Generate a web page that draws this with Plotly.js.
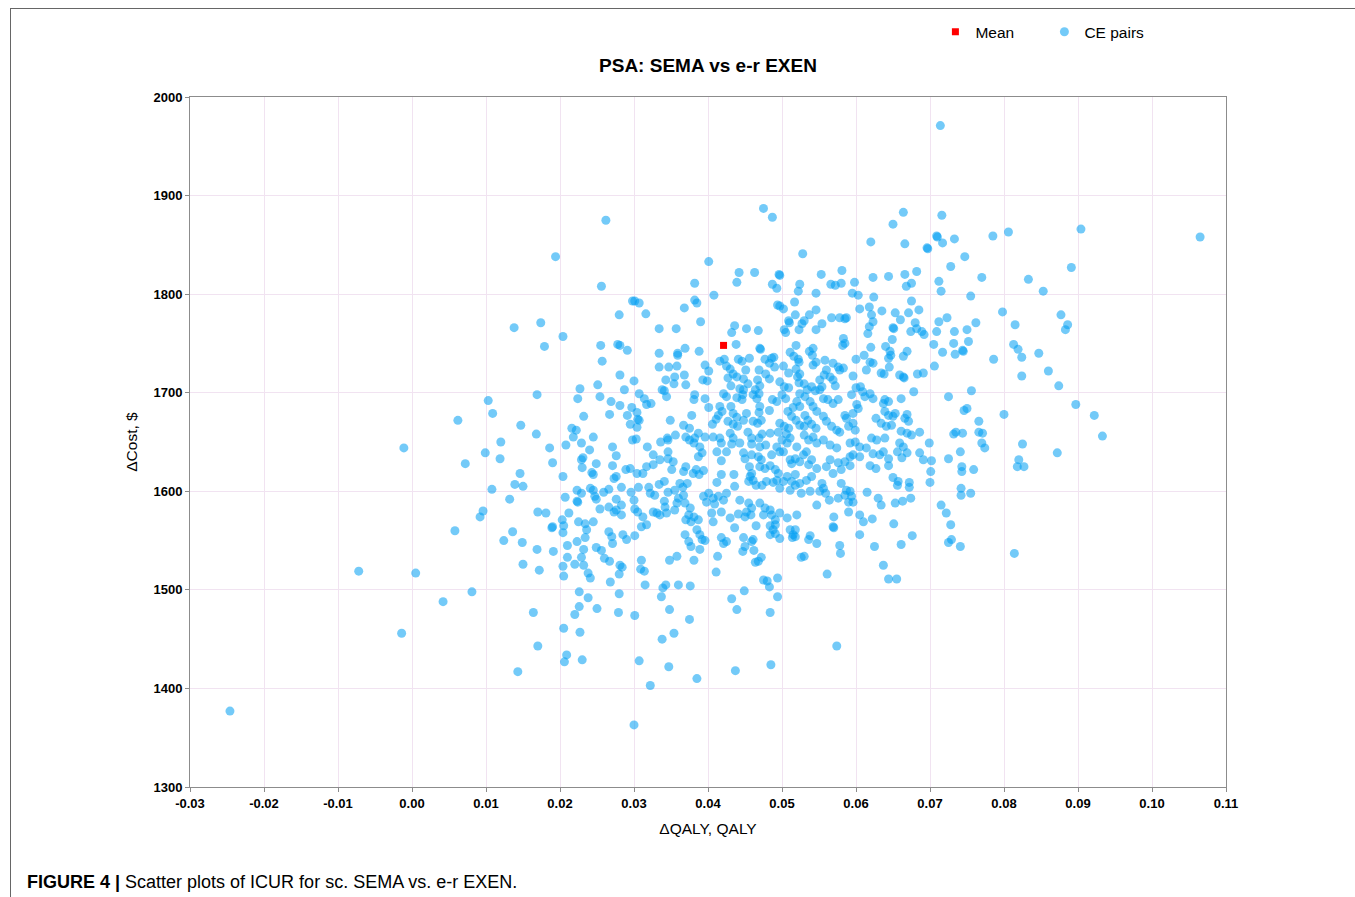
<!DOCTYPE html>
<html>
<head>
<meta charset="utf-8">
<script src="https://cdn.plot.ly/plotly-3.0.1.min.js"></script>
<style>
html,body{margin:0;padding:0;background:#fff;}
#frame{position:absolute;left:10px;top:8px;width:1345px;height:889px;border-left:1px solid #666;border-top:1px solid #666;pointer-events:none;}
#chart{width:1355px;height:897px;}
</style>
</head>
<body>
<div id="chart"></div>
<div id="frame"></div>
<script>
// ΔQALY, ΔCost pairs
const cePairs = [
[0.0103,1692],[0.0109,1679],[0.0062,1672],[0.0147,1667],[0.0168,1658],[-0.0011,1644],[0.0120,1650],[0.0099,1639],[0.0119,1633],[0.0072,1628],
[0.0146,1618],[0.0139,1607],[0.0150,1605],[0.0108,1602],[0.0132,1592],[0.0170,1579],[0.0096,1580],[0.0092,1574],[0.0058,1560],[0.0136,1559],
[0.0124,1550],[0.0149,1548],[0.0169,1541],[0.0150,1526],[0.0172,1520],[-0.0072,1519],[0.0005,1517],[0.0081,1498],[0.0042,1488],[0.0164,1477],
[-0.0014,1456],[0.0170,1443],[0.0143,1417],[-0.0246,1377],[0.0169,1698],[0.0138,1766],
[0.0714,1971],[0.0262,1875],[0.0194,1838],[0.0475,1887],[0.0487,1878],[0.0664,1883],[0.0716,1880],[0.0650,1871],[0.0620,1853],[0.0666,1851],
[0.0709,1859],[0.0710,1858],[0.0696,1847],[0.0697,1846],[0.0717,1852],[0.0733,1856],[0.0785,1859],[0.0747,1838],[0.0728,1828],[0.0528,1841],
[0.0401,1833],[0.0442,1822],[0.0463,1822],[0.0496,1820],[0.0497,1819],[0.0553,1820],[0.0581,1824],[0.0623,1817],[0.0644,1818],[0.0666,1820],
[0.0682,1823],[0.0770,1817],
[0.0806,1863],[0.0904,1866],[0.1065,1858],[0.0891,1827],[0.0833,1815],[0.0853,1803],[0.0755,1798],[0.0798,1782],[0.0877,1779],[0.0886,1769],
[0.0883,1764],[0.0815,1769],[0.0762,1771],[0.0750,1764],[0.0752,1752],[0.0744,1743],[0.0745,1742],[0.0813,1749],[0.0819,1744],[0.0824,1736],
[0.0847,1740],[0.0786,1734],[0.0860,1722],[0.0824,1717],[0.0874,1707],[0.0756,1702],[0.0897,1688],[0.0922,1677],[0.0933,1656],[0.0800,1678],
[0.0746,1682],[0.0750,1684],[0.0766,1671],[0.0766,1660],[0.0771,1659],[0.0744,1659],[0.0770,1649],[0.0774,1644],[0.0825,1648],[0.0872,1639],
[0.0820,1632],[0.0818,1625],[0.0827,1625],[0.0741,1640],[0.0743,1625],[0.0743,1620],[0.0759,1622],[0.0742,1603],[0.0742,1596],[0.0755,1598],
[0.0741,1544],[0.0814,1537],
[0.0256,1808],[0.0298,1793],[0.0301,1793],[0.0307,1791],[0.0280,1779],[0.0316,1780],[0.0174,1771],[0.0179,1747],[0.0204,1757],[0.0334,1765],
[0.0357,1765],[0.0255,1748],[0.0278,1749],[0.0281,1748],[0.0291,1743],[0.0257,1732],[0.0334,1740],[0.0359,1740],[0.0359,1738],[0.0334,1726],
[0.0347,1726],[0.0358,1727],[0.0281,1718],[0.0300,1712],[0.0343,1713],[0.0355,1716],[0.0354,1709],[0.0251,1708],[0.0287,1703],[0.0227,1704],
[0.0224,1694],[0.0338,1703],[0.0341,1702],[0.0254,1696],[0.0344,1696],[0.0307,1699],[0.0314,1694],[0.0317,1688],[0.0323,1689],[0.0269,1691],
[0.0281,1687],[0.0297,1685],[0.0304,1680],[0.0305,1673],[0.0307,1672],[0.0291,1677],[0.0267,1678],[0.0232,1676],[0.0295,1668],[0.0304,1665],
[0.0216,1664],[0.0222,1662],[0.0218,1655],[0.0245,1655],[0.0229,1649],[0.0208,1647],[0.0271,1645],[0.0298,1652],[0.0303,1653],[0.0318,1645],
[0.0336,1650],[0.0345,1654],[0.0356,1657],[0.0349,1672],[0.0346,1652],[0.0186,1644],[0.0240,1642],
[0.0382,1811],[0.0439,1812],[0.0487,1810],[0.0493,1806],[0.0524,1810],[0.0522,1803],[0.0546,1801],[0.0408,1799],[0.0368,1786],[0.0382,1794],
[0.0385,1791],[0.0494,1789],[0.0497,1788],[0.0517,1792],[0.0502,1785],[0.0537,1779],[0.0546,1784],[0.0518,1779],[0.0390,1772],[0.0509,1773],
[0.0510,1771],[0.0530,1773],[0.0527,1770],[0.0436,1768],[0.0452,1765],[0.0468,1763],[0.0432,1761],[0.0503,1764],[0.0505,1761],[0.0523,1764],
[0.0546,1764],[0.0438,1749],[0.0369,1745],[0.0470,1745],[0.0471,1744],[0.0388,1742],[0.0519,1748],[0.0537,1742],[0.0542,1745],[0.0511,1741],
[0.0416,1732],[0.0422,1734],[0.0441,1734],[0.0446,1732],[0.0456,1735],[0.0477,1734],[0.0486,1735],[0.0483,1730],[0.0489,1736],[0.0516,1737],
[0.0522,1734],[0.0523,1731],[0.0541,1738],[0.0546,1731],[0.0542,1728],[0.0425,1727],[0.0430,1724],[0.0396,1728],[0.0469,1723],[0.0451,1723],
[0.0490,1726],[0.0502,1727],[0.0509,1720],[0.0401,1722],[0.0434,1719],[0.0439,1716],[0.0519,1724],[0.0524,1719],[0.0521,1716],[0.0368,1718],
[0.0478,1719],[0.0483,1714],[0.0393,1713],[0.0399,1712],[0.0427,1715],[0.0431,1707],[0.0448,1714],[0.0454,1709],[0.0443,1704],[0.0448,1703],
[0.0467,1713],[0.0470,1707],[0.0464,1703],[0.0469,1699],[0.0497,1711],[0.0503,1706],[0.0509,1705],[0.0500,1698],[0.0523,1710],[0.0530,1709],
[0.0534,1703],[0.0540,1706],[0.0545,1702],[0.0524,1699],[0.0531,1696],[0.0370,1708],[0.0421,1699],[0.0425,1696],[0.0382,1698],[0.0381,1693],
[0.0396,1694],[0.0439,1695],[0.0446,1693],[0.0447,1698],[0.0461,1698],[0.0466,1694],[0.0487,1693],[0.0493,1691],[0.0505,1694],[0.0520,1691],
[0.0524,1686],[0.0515,1685],[0.0538,1691],[0.0542,1686],[0.0547,1681],[0.0401,1685],[0.0416,1686],[0.0419,1681],[0.0414,1677],[0.0431,1686],
[0.0434,1679],[0.0439,1675],[0.0470,1686],[0.0469,1680],[0.0452,1679],[0.0448,1672],[0.0378,1677],[0.0483,1682],[0.0508,1681],[0.0513,1676],
[0.0531,1677],[0.0535,1672],[0.0411,1673],[0.0406,1668],[0.0427,1671],[0.0434,1668],[0.0440,1666],[0.0461,1671],[0.0467,1669],[0.0472,1672],
[0.0497,1669],[0.0503,1666],[0.0509,1664],[0.0519,1672],[0.0524,1667],[0.0530,1666],[0.0540,1668],[0.0546,1664],[0.0367,1667],[0.0375,1664],
[0.0387,1659],[0.0396,1655],[0.0382,1654],[0.0407,1655],[0.0416,1654],[0.0430,1659],[0.0434,1654],[0.0454,1660],[0.0459,1654],[0.0473,1658],
[0.0469,1654],[0.0484,1659],[0.0495,1660],[0.0500,1652],[0.0511,1654],[0.0506,1658],[0.0530,1657],[0.0536,1652],[0.0542,1655],[0.0547,1649],
[0.0370,1655],[0.0375,1652],[0.0381,1649],[0.0389,1645],[0.0418,1649],[0.0432,1648],[0.0443,1649],[0.0459,1648],[0.0470,1645],[0.0478,1647],
[0.0493,1645],[0.0507,1649],[0.0520,1645],
[0.0566,1810],[0.0572,1809],[0.0580,1811],[0.0598,1812],[0.0668,1808],[0.0675,1811],[0.0712,1813],[0.0715,1803],[0.0595,1801],[0.0603,1799],
[0.0624,1797],[0.0605,1785],[0.0618,1787],[0.0635,1783],[0.0653,1781],[0.0660,1774],[0.0671,1781],[0.0675,1793],[0.0685,1784],[0.0567,1776],
[0.0578,1776],[0.0585,1775],[0.0587,1776],[0.0621,1779],[0.0623,1772],[0.0618,1767],[0.0616,1760],[0.0650,1766],[0.0651,1765],[0.0680,1771],
[0.0682,1765],[0.0689,1762],[0.0692,1759],[0.0674,1762],[0.0712,1772],[0.0723,1776],[0.0709,1762],[0.0733,1762],[0.0554,1770],[0.0649,1754],
[0.0583,1755],[0.0585,1750],[0.0582,1748],[0.0705,1749],[0.0732,1750],[0.0734,1739],[0.0640,1747],[0.0646,1742],[0.0644,1735],[0.0647,1738],
[0.0620,1746],[0.0611,1738],[0.0619,1731],[0.0623,1730],[0.0614,1723],[0.0600,1734],[0.0669,1742],[0.0664,1737],[0.0717,1741],[0.0558,1733],
[0.0569,1730],[0.0576,1726],[0.0578,1723],[0.0583,1725],[0.0560,1723],[0.0557,1718],[0.0565,1716],[0.0569,1713],[0.0572,1707],[0.0596,1717],
[0.0645,1726],[0.0634,1720],[0.0638,1719],[0.0659,1718],[0.0664,1716],[0.0665,1715],[0.0683,1719],[0.0691,1720],[0.0706,1727],[0.0551,1713],
[0.0554,1706],[0.0600,1705],[0.0606,1706],[0.0609,1701],[0.0612,1696],[0.0619,1699],[0.0623,1694],[0.0594,1698],[0.0678,1701],[0.0725,1696],
[0.0661,1694],[0.0639,1693],[0.0644,1691],[0.0551,1703],[0.0556,1694],[0.0562,1693],[0.0569,1689],[0.0576,1693],[0.0601,1688],[0.0603,1684],
[0.0596,1679],[0.0637,1689],[0.0639,1681],[0.0644,1677],[0.0650,1676],[0.0653,1679],[0.0669,1678],[0.0666,1674],[0.0671,1671],[0.0627,1674],
[0.0634,1669],[0.0641,1666],[0.0648,1667],[0.0556,1676],[0.0560,1671],[0.0567,1666],[0.0574,1662],[0.0578,1660],[0.0585,1677],[0.0587,1674],
[0.0590,1666],[0.0596,1669],[0.0599,1662],[0.0661,1661],[0.0669,1659],[0.0675,1657],[0.0686,1660],[0.0621,1654],[0.0628,1652],[0.0639,1654],
[0.0699,1649],[0.0732,1658],[0.0735,1660],[0.0592,1649],[0.0599,1650],[0.0605,1645],[0.0614,1644],[0.0659,1649],[0.0664,1645],[0.0556,1652],
[0.0565,1647],[0.0574,1644],
[0.0231,1634],[0.0276,1636],[0.0190,1629],[0.0229,1632],[0.0230,1624],[0.0249,1628],[0.0243,1619],[0.0245,1617],[0.0271,1626],[0.0276,1615],
[0.0273,1613],[0.0289,1622],[0.0295,1623],[0.0304,1618],[0.0312,1618],[0.0317,1625],[0.0326,1627],[0.0335,1632],[0.0346,1633],[0.0353,1630],
[0.0351,1622],[0.0326,1637],[0.0346,1640],[0.0204,1615],[0.0283,1604],[0.0296,1599],[0.0306,1604],[0.0300,1591],[0.0320,1604],[0.0322,1598],
[0.0334,1607],[0.0341,1610],[0.0328,1596],[0.0346,1599],[0.0355,1601],[0.0360,1593],[0.0223,1601],[0.0229,1598],[0.0241,1603],[0.0245,1601],
[0.0249,1592],[0.0247,1595],[0.0259,1599],[0.0266,1602],[0.0276,1592],[0.0283,1586],[0.0207,1594],[0.0223,1590],[0.0224,1589],[0.0254,1582],
[0.0266,1584],[0.0273,1579],[0.0276,1581],[0.0283,1576],[0.0181,1578],[0.0212,1578],[0.0301,1582],[0.0305,1579],[0.0312,1574],[0.0310,1564],
[0.0317,1566],[0.0326,1579],[0.0331,1578],[0.0342,1584],[0.0344,1578],[0.0355,1581],[0.0358,1588],[0.0341,1590],[0.0335,1576],[0.0203,1571],
[0.0205,1565],[0.0189,1563],[0.0190,1564],[0.0225,1569],[0.0234,1567],[0.0245,1569],[0.0236,1561],[0.0234,1553],[0.0266,1559],[0.0270,1554],
[0.0271,1547],[0.0285,1556],[0.0290,1551],[0.0301,1555],[0.0204,1558],[0.0223,1549],[0.0191,1539],[0.0210,1545],[0.0232,1541],[0.0249,1543],
[0.0256,1540],[0.0210,1533],[0.0229,1533],[0.0232,1525],[0.0220,1526],[0.0260,1532],[0.0267,1529],[0.0310,1530],[0.0309,1521],[0.0314,1519],
[0.0348,1530],[0.0358,1534],[0.0281,1525],[0.0284,1523],[0.0280,1516],[0.0204,1524],[0.0205,1514],[0.0238,1517],[0.0241,1512],[0.0268,1508],
[0.0315,1505],[0.0339,1502],[0.0343,1505],[0.0337,1493],[0.0348,1480],[0.0360,1505],[0.0226,1498],[0.0238,1492],[0.0280,1496],[0.0226,1483],
[0.0220,1475],[0.0250,1481],[0.0279,1477],[0.0301,1474],
[0.0387,1635],[0.0392,1639],[0.0412,1640],[0.0425,1640],[0.0418,1631],[0.0448,1639],[0.0450,1633],[0.0459,1637],[0.0468,1635],[0.0472,1632],
[0.0486,1637],[0.0497,1640],[0.0502,1640],[0.0511,1632],[0.0518,1633],[0.0524,1630],[0.0529,1637],[0.0533,1640],[0.0540,1632],[0.0547,1623],
[0.0536,1627],[0.0370,1625],[0.0367,1620],[0.0380,1618],[0.0384,1622],[0.0394,1621],[0.0388,1617],[0.0418,1617],[0.0412,1609],[0.0435,1617],
[0.0436,1605],[0.0456,1625],[0.0459,1618],[0.0457,1615],[0.0461,1611],[0.0455,1610],[0.0465,1606],[0.0470,1625],[0.0477,1623],[0.0484,1626],
[0.0491,1622],[0.0495,1618],[0.0493,1611],[0.0488,1609],[0.0479,1610],[0.0473,1606],[0.0502,1610],[0.0507,1615],[0.0497,1603],[0.0513,1628],
[0.0518,1617],[0.0513,1610],[0.0524,1608],[0.0533,1611],[0.0540,1615],[0.0526,1598],[0.0538,1600],[0.0518,1606],[0.0511,1601],[0.0362,1608],
[0.0366,1604],[0.0372,1608],[0.0367,1596],[0.0369,1588],[0.0394,1595],[0.0401,1598],[0.0407,1593],[0.0398,1589],[0.0409,1587],[0.0414,1595],
[0.0421,1591],[0.0425,1598],[0.0443,1591],[0.0455,1588],[0.0459,1583],[0.0452,1579],[0.0458,1576],[0.0470,1588],[0.0477,1583],[0.0484,1581],
[0.0475,1576],[0.0486,1576],[0.0491,1571],[0.0497,1578],[0.0507,1573],[0.0520,1576],[0.0547,1586],[0.0376,1583],[0.0374,1576],[0.0381,1574],
[0.0370,1571],[0.0377,1569],[0.0387,1571],[0.0405,1578],[0.0407,1569],[0.0418,1579],[0.0430,1573],[0.0441,1577],[0.0450,1574],[0.0436,1563],
[0.0465,1565],[0.0484,1565],[0.0491,1566],[0.0488,1561],[0.0511,1561],[0.0518,1561],[0.0515,1556],[0.0538,1555],[0.0536,1551],[0.0369,1556],
[0.0385,1561],[0.0389,1556],[0.0374,1549],[0.0377,1544],[0.0392,1551],[0.0396,1550],[0.0389,1541],[0.0381,1530],[0.0418,1553],[0.0425,1549],
[0.0421,1547],[0.0448,1553],[0.0459,1549],[0.0461,1551],[0.0447,1539],[0.0450,1544],[0.0462,1540],[0.0484,1556],[0.0497,1552],[0.0491,1557],
[0.0514,1553],[0.0518,1554],[0.0547,1547],[0.0413,1534],[0.0464,1528],[0.0468,1529],[0.0472,1533],[0.0526,1533],[0.0530,1534],[0.0411,1518],
[0.0376,1504],[0.0475,1510],[0.0480,1509],[0.0483,1503],[0.0494,1512],[0.0432,1491],[0.0449,1499],[0.0494,1493],[0.0439,1480],[0.0484,1477],
[0.0375,1470],
[0.0565,1632],[0.0576,1629],[0.0585,1630],[0.0592,1635],[0.0596,1637],[0.0605,1635],[0.0623,1638],[0.0632,1637],[0.0644,1633],[0.0637,1640],
[0.0656,1640],[0.0662,1634],[0.0669,1639],[0.0686,1639],[0.0691,1632],[0.0702,1631],[0.0725,1633],[0.0560,1625],[0.0569,1618],[0.0580,1622],
[0.0592,1626],[0.0619,1626],[0.0627,1623],[0.0644,1626],[0.0701,1620],[0.0700,1609],[0.0650,1614],[0.0657,1610],[0.0656,1606],[0.0672,1609],
[0.0672,1604],[0.0554,1608],[0.0556,1603],[0.0551,1600],[0.0559,1598],[0.0564,1591],[0.0580,1608],[0.0587,1601],[0.0592,1600],[0.0585,1596],
[0.0594,1595],[0.0596,1589],[0.0576,1593],[0.0590,1589],[0.0615,1599],[0.0630,1593],[0.0634,1586],[0.0653,1588],[0.0663,1590],[0.0674,1593],
[0.0715,1586],[0.0722,1578],[0.0728,1566],[0.0590,1579],[0.0570,1574],[0.0569,1564],[0.0570,1563],[0.0605,1576],[0.0610,1569],[0.0622,1572],
[0.0651,1567],[0.0605,1556],[0.0578,1545],[0.0579,1537],[0.0625,1544],[0.0661,1546],[0.0676,1555],[0.0729,1551],[0.0725,1548],[0.0561,1516],
[0.0637,1525],[0.0644,1511],[0.0655,1511],
[0.0205,1461],[0.0227,1457],[0.0209,1434],[0.0206,1427],[0.0230,1429],[0.0307,1428],[0.0338,1450],[0.0354,1456],[0.0347,1422],[0.0322,1403],
[0.0385,1410],[0.0437,1418],[0.0485,1424],[0.0574,1443],[0.0300,1363]
];
const meanQaly = [0.0421];
const meanCost = [1748];
const xTickVals = [-0.03,-0.02,-0.01,0.00,0.01,0.02,0.03,0.04,0.05,0.06,0.07,0.08,0.09,0.10,0.11];
const xTickText = ['-0.03','-0.02','-0.01','0.00','0.01','0.02','0.03','0.04','0.05','0.06','0.07','0.08','0.09','0.10','0.11'];
const yTickVals = [1300,1400,1500,1600,1700,1800,1900,2000];
const yTickText = ['1300','1400','1500','1600','1700','1800','1900','2000'];

const FONT = 'Liberation Sans, Arial, Helvetica, sans-serif';

const traces = [
  {
    type: 'scatter', mode: 'markers', name: 'CE pairs',
    x: cePairs.map(p => p[0]), y: cePairs.map(p => p[1]),
    marker: {color: 'rgb(0,158,242)', opacity: 0.55, size: 9, line: {width: 0}},
    hoverinfo: 'x+y'
  },
  {
    type: 'scatter', mode: 'markers', name: 'Mean',
    x: meanQaly, y: meanCost,
    marker: {color: 'rgb(255,0,0)', symbol: 'square', size: 7, line: {width: 0}}
  }
];

const axisCommon = {
  showline: true, linecolor: '#8c8c8c', linewidth: 1, mirror: true,
  ticks: 'outside', ticklen: 4, tickcolor: '#8c8c8c',
  showgrid: true, gridcolor: '#f1e3f1', gridwidth: 1, zeroline: false,
  tickfont: {family: FONT, size: 13, color: '#000', weight: 'bold'}
};

const layout = {
  width: 1355, height: 897,
  margin: {l: 190, r: 129, t: 97, b: 110},
  paper_bgcolor: '#fff', plot_bgcolor: '#fff',
  font: {family: FONT, color: '#000'},
  title: {text: 'PSA: SEMA vs e-r EXEN', font: {family: FONT, size: 19, weight: 'bold', color: '#000'},
          x: 0.5225, xanchor: 'center', y: 1 - 65/897, yanchor: 'middle', xref: 'container', yref: 'container'},
  xaxis: Object.assign({}, axisCommon, {
    range: [-0.03, 0.11], tickvals: xTickVals, ticktext: xTickText,
    title: {text: 'ΔQALY, QALY', font: {family: FONT, size: 15.5, color: '#000'}, standoff: 13}
  }),
  yaxis: Object.assign({}, axisCommon, {
    range: [1300, 2000], tickvals: yTickVals, ticktext: yTickText,
    title: {text: 'ΔCost, $', font: {family: FONT, size: 15.5, color: '#000'}, standoff: 12}
  }),
  showlegend: true,
  legend: {orientation: 'h', x: 0.7195, xanchor: 'left', y: 1.094, yanchor: 'middle',
           traceorder: 'reversed', font: {family: FONT, size: 15.5, color: '#000'},
           bgcolor: 'rgba(0,0,0,0)', itemwidth: 30, entrywidth: 64, entrywidthmode: 'pixels'},
  annotations: [{
    xref: 'paper', yref: 'paper', x: -0.1592, y: -0.1377, xanchor: 'left', yanchor: 'middle',
    showarrow: false,
    text: '<b>FIGURE 4 |</b> Scatter plots of ICUR for sc. SEMA vs. e-r EXEN.',
    font: {family: FONT, size: 18, color: '#000'}
  }]
};

Plotly.newPlot('chart', traces, layout, {displayModeBar: false, staticPlot: true});
</script>
</body>
</html>
